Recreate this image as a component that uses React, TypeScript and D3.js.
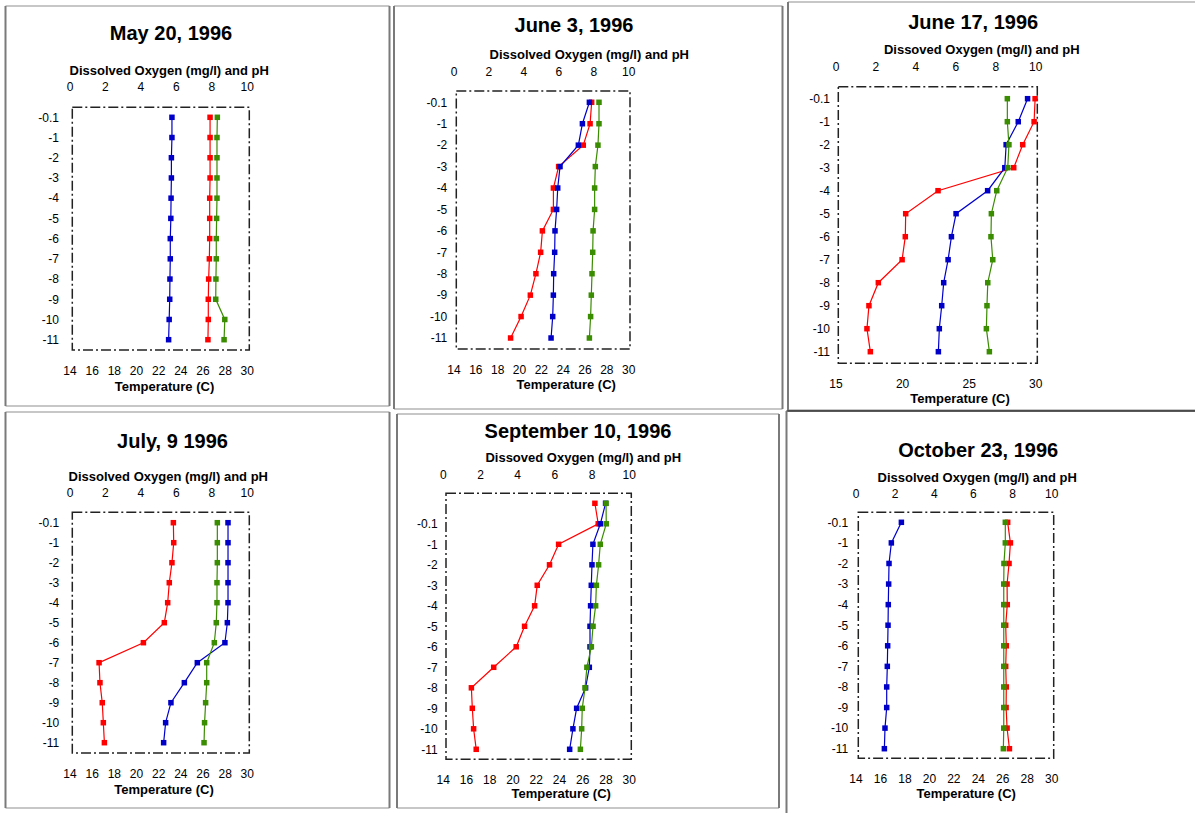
import React from "react";
import * as d3 from "d3";

// ---------- data ----------
const depths = ["-0.1", "-1", "-2", "-3", "-4", "-5", "-6", "-7", "-8", "-9", "-10", "-11"];
const sepDepths = ["", "-0.1", "-1", "-2", "-3", "-4", "-5", "-6", "-7", "-8", "-9", "-10", "-11"];
const topTicks = [0, 2, 4, 6, 8, 10];
const tempTicks = [14, 16, 18, 20, 22, 24, 26, 28, 30];
const tempTicksJune17 = [15, 20, 25, 30];

const titles = ["May 20, 1996", "June 3, 1996", "June 17, 1996", "July, 9 1996", "September 10, 1996", "October 23, 1996"];
const doLabels = [
  "Dissolved Oxygen (mg/l) and pH",
  "Dissolved Oxygen (mg/l) and pH",
  "Dissoved Oxygen (mg/l) and pH",
  "Dissolved Oxygen (mg/l) and pH",
  "Dissoved Oxygen (mg/l) and pH",
  "Dissolved Oxygen (mg/l) and pH",
];
const tempLabel = "Temperature (C)";

// temperature (C) – blue
const tempMay20 = [23.2, 23.2, 23.15, 23.15, 23.12, 23.1, 23.05, 23.05, 23.02, 23.0, 22.95, 22.9];
const tempJun3 = [26.4, 25.76, 25.39, 23.71, 23.5, 23.4, 23.25, 23.22, 23.13, 23.1, 23.04, 22.89];
const tempJun17 = [29.39, 28.69, 27.78, 27.68, 26.39, 24.02, 23.67, 23.42, 23.09, 22.94, 22.76, 22.69];
const tempJul9 = [28.26, 28.26, 28.26, 28.26, 28.26, 28.2, 27.98, 25.49, 24.32, 23.11, 22.63, 22.45];
const tempSep10 = [27.96, 27.51, 26.87, 26.79, 26.73, 26.67, 26.62, 26.62, 26.56, 26.24, 25.47, 25.15, 24.87];
const tempOct23 = [17.71, 16.89, 16.7, 16.67, 16.64, 16.62, 16.59, 16.56, 16.51, 16.51, 16.37, 16.32];

// dissolved oxygen (mg/l) – red
const doMay20 = [7.9, 7.9, 7.9, 7.9, 7.88, 7.88, 7.88, 7.86, 7.82, 7.8, 7.8, 7.78];
const doJun3 = [7.88, 7.79, 7.4, 5.99, 5.69, 5.69, 5.06, 4.96, 4.69, 4.37, 3.84, 3.24];
const doJun17 = [9.97, 9.92, 9.35, 8.9, 5.11, 3.49, 3.47, 3.31, 2.12, 1.65, 1.55, 1.72];
const doJul9 = [5.83, 5.85, 5.75, 5.6, 5.51, 5.32, 4.14, 1.64, 1.69, 1.82, 1.88, 1.94];
const doSep10 = [8.15, 8.33, 6.2, 5.71, 5.05, 4.91, 4.37, 3.92, 2.71, 1.51, 1.56, 1.63, 1.77];
const doOct23 = [7.75, 7.89, 7.82, 7.72, 7.73, 7.65, 7.68, 7.65, 7.68, 7.67, 7.72, 7.84];

// pH – green
const phMay20 = [8.31, 8.29, 8.29, 8.29, 8.29, 8.27, 8.25, 8.25, 8.23, 8.22, 8.73, 8.69];
const phJun3 = [8.3, 8.3, 8.24, 8.09, 8.05, 8.05, 7.96, 7.94, 7.9, 7.86, 7.82, 7.75];
const phJun17 = [8.58, 8.58, 8.66, 8.6, 8.05, 7.78, 7.76, 7.85, 7.6, 7.56, 7.53, 7.68];
const phJul9 = [8.31, 8.31, 8.31, 8.29, 8.29, 8.25, 8.14, 7.71, 7.71, 7.65, 7.59, 7.56];
const phSep10 = [8.75, 8.76, 8.44, 8.35, 8.23, 8.19, 8.05, 7.96, 7.72, 7.62, 7.47, 7.44, 7.37];
const phOct23 = [7.63, 7.63, 7.56, 7.55, 7.55, 7.55, 7.55, 7.55, 7.55, 7.55, 7.55, 7.53];

// ---------- layout ----------
const COLORS = { temp: "#0000c8", dox: "#ff0000", ph: "#3a8c00" };
const FONT = "'Liberation Sans', Arial, Helvetica, sans-serif";

type Layout = {
  frame: [number, number, number, number];
  titleX: number; titleY: number;
  labX: number; labY: number;
  tickY: number; sx0: number; sx1: number;
  bx0: number; bx1: number; by0: number; by1: number;
  ry0: number; ry1: number;
  yLabX: number; btY: number; blX: number; blY: number;
  darkTop?: boolean;
};

const layouts: Layout[] = [
  { frame: [5.5, 6, 389.5, 406], titleX: 171, titleY: 40, labX: 169.2, labY: 75, tickY: 90.7, sx0: 70, sx1: 247.3,
    bx0: 72.3, bx1: 249.3, by0: 107.3, by1: 350, ry0: 117.3, ry1: 339.7, yLabX: 59, btY: 375, blX: 164.5, blY: 390.7 },
  { frame: [394, 6, 782.5, 409], titleX: 574, titleY: 32, labX: 589.3, labY: 59.3, tickY: 76, sx0: 454, sx1: 628.7,
    bx0: 456.3, bx1: 630, by0: 91, by1: 349, ry0: 102.3, ry1: 338, yLabX: 447.3, btY: 374, blX: 566.2, blY: 389 },
  { frame: [788, 2, 1197, 410], titleX: 973.2, titleY: 29.3, labX: 981.8, labY: 54.3, tickY: 70.7, sx0: 836, sx1: 1035.7,
    bx0: 838.3, bx1: 1037.3, by0: 86.7, by1: 363.3, ry0: 98.7, ry1: 351.7, yLabX: 830, btY: 388.3, blX: 960, blY: 403.3 },
  { frame: [5.5, 412, 389.5, 808], titleX: 172.5, titleY: 447.7, labX: 168.3, labY: 481, tickY: 497, sx0: 70, sx1: 247.3,
    bx0: 72.3, bx1: 249.3, by0: 512.3, by1: 753, ry0: 522.7, ry1: 742.7, yLabX: 59.3, btY: 777.7, blX: 164, blY: 794 },
  { frame: [397, 414, 779, 808], titleX: 578, titleY: 438.3, labX: 583.3, labY: 462.3, tickY: 479, sx0: 443.3, sx1: 629.3,
    bx0: 446, bx1: 631.3, by0: 493.3, by1: 759.3, ry0: 503.3, ry1: 749.3, yLabX: 437.7, btY: 784.3, blX: 561.2, blY: 798.3 },
  { frame: [786.5, 411, 1197, 815], titleX: 978.2, titleY: 456.7, labX: 977.2, labY: 481.7, tickY: 497.7, sx0: 856, sx1: 1051.7,
    bx0: 858.3, bx1: 1053.7, by0: 512.3, by1: 758.3, ry0: 522.3, ry1: 748.7, yLabX: 848.3, btY: 782.7, blX: 966.2, blY: 798.3, darkTop: true },
];

const panelData = [
  { rows: depths, temp: tempMay20, dox: doMay20, ph: phMay20, tDomain: [14, 30], tTicks: tempTicks },
  { rows: depths, temp: tempJun3, dox: doJun3, ph: phJun3, tDomain: [14, 30], tTicks: tempTicks },
  { rows: depths, temp: tempJun17, dox: doJun17, ph: phJun17, tDomain: [15, 30], tTicks: tempTicksJune17 },
  { rows: depths, temp: tempJul9, dox: doJul9, ph: phJul9, tDomain: [14, 30], tTicks: tempTicks },
  { rows: sepDepths, temp: tempSep10, dox: doSep10, ph: phSep10, tDomain: [14, 30], tTicks: tempTicks },
  { rows: depths, temp: tempOct23, dox: doOct23, ph: phOct23, tDomain: [14, 30], tTicks: tempTicks },
];

function Series({ values, rows, x, y, color }: any) {
  const line = d3
    .line<number>()
    .x((d) => x(d))
    .y((_, i) => y(rows[i]) as number);
  const s = 5.5;
  return (
    <g>
      <path d={line(values) || ""} fill="none" stroke={color} strokeWidth={1.2} />
      {values.map((v: number, i: number) => (
        <rect key={i} x={x(v) - s / 2} y={(y(rows[i]) as number) - s / 2} width={s} height={s} fill={color} />
      ))}
    </g>
  );
}

function Panel({ idx }: { idx: number }) {
  const L = layouts[idx];
  const D = panelData[idx];
  const xTop = d3.scaleLinear().domain([0, 10]).range([L.sx0, L.sx1]);
  const xTemp = d3.scaleLinear().domain(D.tDomain).range([L.sx0, L.sx1]);
  const y = d3.scalePoint<string>().domain(D.rows).range([L.ry0, L.ry1]);
  const [fx0, fy0, fx1, fy1] = L.frame;
  const dash = "10,3,2,3";
  return (
    <g fontFamily={FONT}>
      {/* panel border */}
      <line x1={fx0} y1={fy0} x2={fx1} y2={fy0} stroke={L.darkTop ? "#222" : "#b4b4b4"} strokeWidth={1.5} />
      <line x1={fx0} y1={fy1} x2={fx1} y2={fy1} stroke="#b4b4b4" strokeWidth={1.5} />
      <line x1={fx0} y1={fy0} x2={fx0} y2={fy1} stroke="#7a7a7a" strokeWidth={2} />
      <line x1={fx1} y1={fy0} x2={fx1} y2={fy1} stroke="#7a7a7a" strokeWidth={2} />

      <text x={L.titleX} y={L.titleY} textAnchor="middle" fontSize={20} fontWeight="bold" fill="#000">
        {titles[idx]}
      </text>
      <text x={L.labX} y={L.labY} textAnchor="middle" fontSize={13} fontWeight="bold" fill="#000">
        {doLabels[idx]}
      </text>
      {topTicks.map((t) => (
        <text key={"t" + t} x={xTop(t)} y={L.tickY} textAnchor="middle" fontSize={12} fill="#000">
          {t}
        </text>
      ))}
      {D.tTicks.map((t) => (
        <text key={"b" + t} x={xTemp(t)} y={L.btY} textAnchor="middle" fontSize={12} fill="#000">
          {t}
        </text>
      ))}
      <text x={L.blX} y={L.blY} textAnchor="middle" fontSize={13} fontWeight="bold" fill="#000">
        {tempLabel}
      </text>
      {D.rows.map((r) => (
        <text key={"y" + r} x={L.yLabX} y={y(r) as number} dy="0.36em" textAnchor="end" fontSize={12} fill="#000">
          {r}
        </text>
      ))}
      {/* dash-dot plot frame */}
      <rect
        x={L.bx0}
        y={L.by0}
        width={L.bx1 - L.bx0}
        height={L.by1 - L.by0}
        fill="none"
        stroke="#222"
        strokeWidth={1.5}
        strokeDasharray={dash}
      />
      <Series values={D.dox} rows={D.rows} x={xTop} y={y} color={COLORS.dox} />
      <Series values={D.temp} rows={D.rows} x={xTemp} y={y} color={COLORS.temp} />
      <Series values={D.ph} rows={D.rows} x={xTop} y={y} color={COLORS.ph} />
    </g>
  );
}

export default function App() {
  return (
    <svg
      width={1195}
      height={813}
      style={{ position: "absolute", left: 0, top: 0, background: "#fff" }}
    >
      <rect x={0} y={0} width={1195} height={813} fill="#fff" />
      {layouts.map((_, i) => (
        <Panel key={i} idx={i} />
      ))}
    </svg>
  );
}
